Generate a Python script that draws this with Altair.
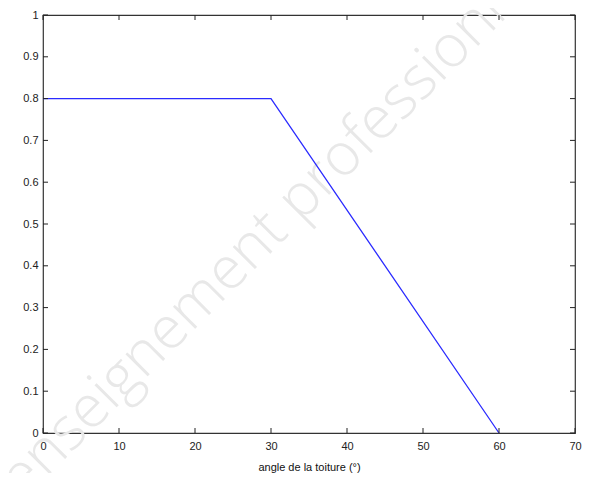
import altair as alt
import pandas as pd

# Data
angles = [0, 30, 60]
values = [0.8, 0.8, 0.0]
x_ticks = [0, 10, 20, 30, 40, 50, 60, 70]
y_ticks = [0, 0.1, 0.2, 0.3, 0.4, 0.5, 0.6, 0.7, 0.8, 0.9, 1.0]
x_title = "angle de la toiture (°)"
watermark = "enseignement professionnel"

W, H = 532, 418
FONT = "Liberation Sans"

line_df = pd.DataFrame({"angle": angles, "value": values})
xt_df = pd.DataFrame({"t": x_ticks})
yt_df = pd.DataFrame({"t": y_ticks})
wm_df = pd.DataFrame({"txt": [watermark]})

xscale = alt.Scale(domain=[0, 70], nice=False, zero=False)
yscale = alt.Scale(domain=[0, 1], nice=False, zero=False)

xaxis = alt.Axis(values=x_ticks, ticks=False, domain=False, grid=False,
                 labelFont=FONT, labelFontSize=11, labelColor="#222",
                 labelPadding=7, title=x_title, titleFont=FONT,
                 titleFontSize=11, titleFontWeight="normal", titleColor="#111",
                 titlePadding=10, labelFlush=False)
yaxis = alt.Axis(values=y_ticks, ticks=False, domain=False, grid=False,
                 labelFont=FONT, labelFontSize=11, labelColor="#222",
                 labelPadding=5, format=".1~f", title=None, labelFlush=False)

watermark_layer = alt.Chart(wm_df).mark_text(
    align="left", baseline="alphabetic", angle=315, fontSize=59,
    font="Open Sans", fontWeight=300, color="#e8e8e8"
).encode(x=alt.value(-20), y=alt.value(486), text="txt:N")

line = alt.Chart(line_df).mark_line(color="#2b2bff", strokeWidth=1.3).encode(
    x=alt.X("angle:Q", scale=xscale, axis=xaxis),
    y=alt.Y("value:Q", scale=yscale, axis=yaxis),
)

tick_color = "#222"
bottom_ticks = alt.Chart(xt_df).mark_rule(color=tick_color, strokeWidth=1).encode(
    x=alt.X("t:Q", scale=xscale), y=alt.value(H), y2=alt.value(H - 5))
top_ticks = alt.Chart(xt_df).mark_rule(color=tick_color, strokeWidth=1).encode(
    x=alt.X("t:Q", scale=xscale), y=alt.value(0), y2=alt.value(5))
left_ticks = alt.Chart(yt_df).mark_rule(color=tick_color, strokeWidth=1).encode(
    y=alt.Y("t:Q", scale=yscale), x=alt.value(0), x2=alt.value(5))
right_ticks = alt.Chart(yt_df).mark_rule(color=tick_color, strokeWidth=1).encode(
    y=alt.Y("t:Q", scale=yscale), x=alt.value(W), x2=alt.value(W - 5))

chart = alt.layer(
    watermark_layer, line, bottom_ticks, top_ticks, left_ticks, right_ticks
).properties(
    width=W, height=H,
    autosize=alt.AutoSizeParams(type="none"),
    padding={"left": 35, "top": 7, "right": 13, "bottom": 40},
    background="white",
).configure_view(stroke="#333", strokeWidth=1.2)

chart.save("out.html", embed_options={"renderer": "svg", "actions": False})
